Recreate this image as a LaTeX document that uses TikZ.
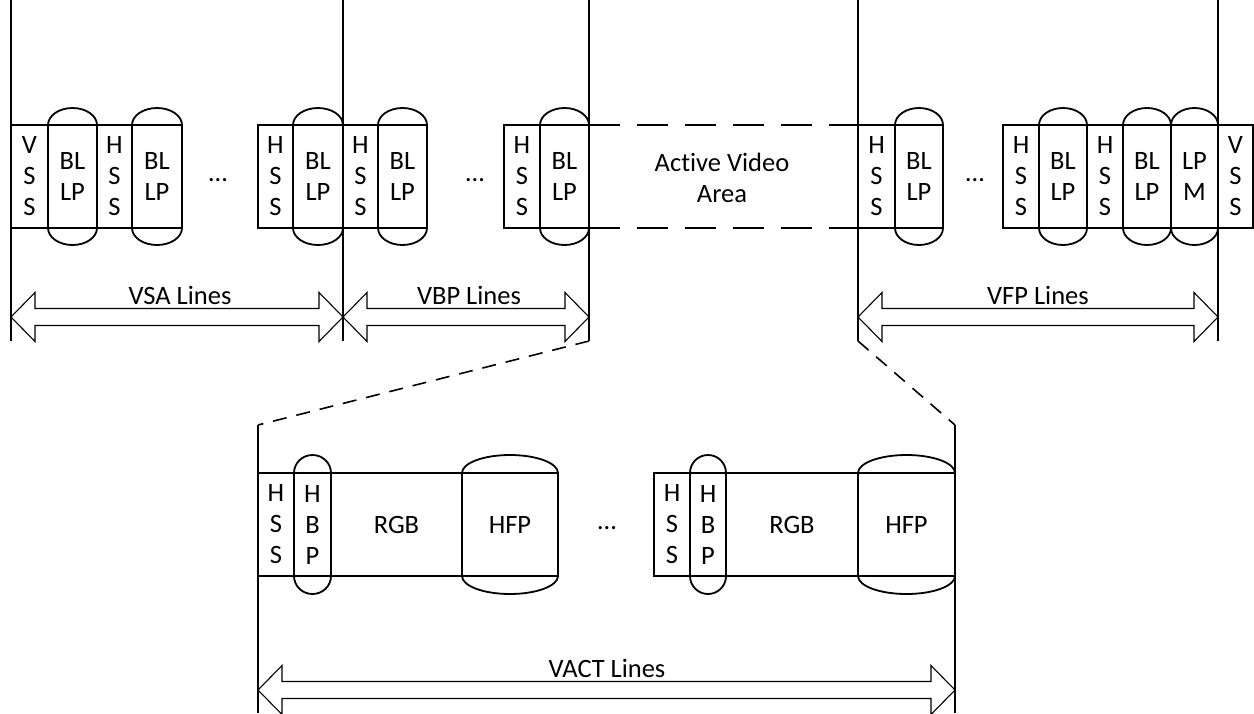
\documentclass[tikz,border=0pt]{standalone}
\usepackage{fontspec}
\setmainfont{Carlito}[Ligatures=NoCommon]
\usetikzlibrary{calc}
\newcommand{\cellnode}[5]{\node[cell, minimum width={#3-#2}] (#1) at ({(#2+#3)/2},#4) {#5};}
\newcommand{\capsule}[3]{%
  \draw[cellline] (#1.north west) arc[start angle=180,end angle=0,x radius=#2pt,y radius=#3pt];
  \draw[cellline] (#1.south west) arc[start angle=180,end angle=360,x radius=#2pt,y radius=#3pt];}
\newcommand{\dblarrow}[2]{%
  \draw[arrowline] (#1) -- ($(#1)+(24,-24.5)$) -- ($(#1)+(24,-8.5)$) -- ($(#2)+(-24,-8.5)$)
    -- ($(#2)+(-24,-24.5)$) -- (#2) -- ($(#2)+(-24,24.5)$) -- ($(#2)+(-24,8.5)$)
    -- ($(#1)+(24,8.5)$) -- ($(#1)+(24,24.5)$) -- cycle;}
\begin{document}
\begin{tikzpicture}[x=1pt,y=-1pt,
  font=\fontsize{26.5}{31}\selectfont,
  cellline/.style={line width=1.8pt},
  cell/.style={draw, line width=1.8pt, inner sep=0pt, outer sep=0pt, minimum height=103pt, align=center},
  longline/.style={line width=1.5pt},
  arrowline/.style={line width=1.1pt, line join=miter},
  diag/.style={line width=1.6pt, dash pattern=on 14pt off 10pt},
  plain/.style={inner sep=0pt, align=center}]
\useasboundingbox (0,0) rectangle (1254,713);

% long vertical lines (top)
\coordinate (t1a) at (11,0);   \coordinate (t1b) at (11,341);
\coordinate (t2a) at (343,0);  \coordinate (t2b) at (343,341);
\coordinate (t3a) at (589,0);  \coordinate (t3b) at (589,341);
\coordinate (t4a) at (858,0);  \coordinate (t4b) at (858,341);
\coordinate (t5a) at (1218,0); \coordinate (t5b) at (1218,341);
\foreach \n in {1,...,5} {\draw[longline] (t\n a) -- (t\n b);}
% long vertical lines (bottom)
\coordinate (b1a) at (258,425); \coordinate (b1b) at (258,713);
\coordinate (b2a) at (955,425); \coordinate (b2b) at (955,713);
\draw[longline] (b1a) -- (b1b);
\draw[longline] (b2a) -- (b2b);
% dashed zoom lines
\draw[diag] (t3b) -- (b1a);
\draw[diag] (t4b) -- (b2a);

% top row
\cellnode{vss1}{11}{48}{176.5}{V\\S\\S}
\cellnode{bl1}{48}{97}{176.5}{BL\\LP}
\cellnode{hss1}{97}{132}{176.5}{H\\S\\S}
\cellnode{bl2}{132}{182}{176.5}{BL\\LP}
\node[plain] (dots1) at (218,180) {\textellipsis};
\cellnode{hss2}{258}{293}{176.5}{H\\S\\S}
\cellnode{bl3}{293}{343}{176.5}{BL\\LP}
\cellnode{hss3}{343}{378}{176.5}{H\\S\\S}
\cellnode{bl4}{378}{427}{176.5}{BL\\LP}
\node[plain] (dots2) at (475,180) {\textellipsis};
\cellnode{hss4}{504}{540}{176.5}{H\\S\\S}
\cellnode{bl5}{540}{589}{176.5}{BL\\LP}
\cellnode{hss5}{858}{895}{176.5}{H\\S\\S}
\cellnode{bl6}{895}{943}{176.5}{BL\\LP}
\node[plain] (dots3) at (975,180) {\textellipsis};
\cellnode{hss6}{1003}{1039}{176.5}{H\\S\\S}
\cellnode{bl7}{1039}{1087}{176.5}{BL\\LP}
\cellnode{hss7}{1087}{1123}{176.5}{H\\S\\S}
\cellnode{bl8}{1123}{1171}{176.5}{BL\\LP}
\cellnode{lpm}{1171}{1218}{176.5}{LP\\M}
\cellnode{vss2}{1218}{1253}{176.5}{V\\S\\S}
\capsule{bl1}{24.5}{17}
\capsule{bl2}{25}{17}
\capsule{bl3}{25}{17}
\capsule{bl4}{24.5}{17}
\capsule{bl5}{24.5}{17}
\capsule{bl6}{24}{17}
\capsule{bl7}{24}{17}
\capsule{bl8}{24}{17}
\capsule{lpm}{23.5}{17}
% active video area
\node[plain] (ava) at (722,178) {Active Video\\Area};
\draw[cellline, dash pattern=on 31pt off 17pt] (bl5.north east) -- (hss5.north west);
\draw[cellline, dash pattern=on 31pt off 17pt] (bl5.south east) -- (hss5.south west);

% top arrows
\coordinate (vsaL) at (11,317);  \coordinate (vsaR) at (343,317);
\coordinate (vbpL) at (343,317); \coordinate (vbpR) at (589,317);
\coordinate (vfpL) at (858,317); \coordinate (vfpR) at (1218,317);
\dblarrow{vsaL}{vsaR}
\dblarrow{vbpL}{vbpR}
\dblarrow{vfpL}{vfpR}
\node[plain] (vsa) at (180,295) {VSA Lines};
\node[plain] (vbp) at (469,295) {VBP Lines};
\node[plain] (vfp) at (1038,295) {VFP Lines};

% bottom row
\cellnode{bhss1}{258}{294}{524.5}{H\\S\\S}
\cellnode{hbp1}{294}{331}{524.5}{H\\B\\P}
\cellnode{rgb1}{331}{462}{524.5}{RGB}
\cellnode{hfp1}{462}{558}{524.5}{HFP}
\node[plain] (dots4) at (607,528) {\textellipsis};
\cellnode{bhss2}{654}{690}{524.5}{H\\S\\S}
\cellnode{hbp2}{690}{726}{524.5}{H\\B\\P}
\cellnode{rgb2}{726}{858}{524.5}{RGB}
\cellnode{hfp2}{858}{955}{524.5}{HFP}
\capsule{hbp1}{18.5}{18}
\capsule{hfp1}{48}{18}
\capsule{hbp2}{18}{18}
\capsule{hfp2}{48.5}{18}

% bottom arrow
\coordinate (vactL) at (258,690); \coordinate (vactR) at (955,690);
\dblarrow{vactL}{vactR}
\node[plain] (vact) at (607,668) {VACT Lines};
\end{tikzpicture}
\end{document}
